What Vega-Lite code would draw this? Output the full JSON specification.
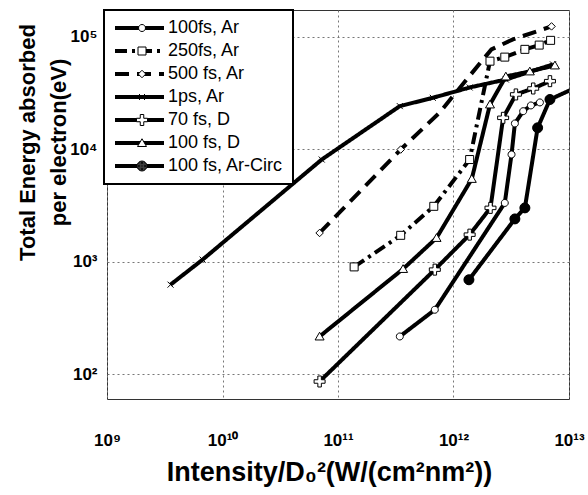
{
  "$schema": "https://vega.github.io/schema/vega-lite/v6.json",
  "autosize": {"type": "none"},
  "padding": {"left": 107, "top": 10, "right": 19, "bottom": 96},
  "width": 462,
  "height": 389,
  "background": "white",
  "config": {
    "font": "Liberation Sans",
    "view": {"stroke": "#333", "strokeWidth": 1},
    "axis": {
      "grid": true, "gridColor": "#777", "gridDash": [2, 3], "gridWidth": 1,
      "domain": false, "ticks": false, "tickSize": 0,
      "labelFont": "Liberation Sans", "labelFontWeight": "bold", "labelFontSize": 17, "labelColor": "black",
      "labelFlush": false, "labelOverlap": false, "labelBound": false,
      "titleFont": "Liberation Sans", "titleFontWeight": "bold", "titleColor": "black"
    },
    "legend": {"symbolFillColor": "white", "strokeWidth": 2}
  },
  "datasets": {
    "curves": [
      {"series": "1ps, Ar", "intensity": 3.55e9, "energy": 627},
      {"series": "1ps, Ar", "intensity": 6.73e9, "energy": 1047},
      {"series": "1ps, Ar", "intensity": 7.23e10, "energy": 8128},
      {"series": "1ps, Ar", "intensity": 3.43e11, "energy": 24270},
      {"series": "1ps, Ar", "intensity": 6.62e11, "energy": 28770},
      {"series": "1ps, Ar", "intensity": 1.38e12, "energy": 35560},
      {"series": "1ps, Ar", "intensity": 2.84e12, "energy": 41880},
      {"series": "1ps, Ar", "intensity": 7.26e12, "energy": 57020},
      {"series": "100 fs, D", "intensity": 6.93e10, "energy": 217},
      {"series": "100 fs, D", "intensity": 3.66e11, "energy": 865},
      {"series": "100 fs, D", "intensity": 7.13e11, "energy": 1633},
      {"series": "100 fs, D", "intensity": 1.44e12, "energy": 5470},
      {"series": "100 fs, D", "intensity": 2.07e12, "energy": 25120},
      {"series": "100 fs, D", "intensity": 2.84e12, "energy": 44570},
      {"series": "100 fs, D", "intensity": 4.58e12, "energy": 49430},
      {"series": "100 fs, D", "intensity": 7.55e12, "energy": 55850},
      {"series": "70 fs, D", "intensity": 6.93e10, "energy": 86.3},
      {"series": "70 fs, D", "intensity": 6.89e11, "energy": 853},
      {"series": "70 fs, D", "intensity": 1.38e12, "energy": 1746},
      {"series": "70 fs, D", "intensity": 2.09e12, "energy": 3020},
      {"series": "70 fs, D", "intensity": 2.69e12, "energy": 19100},
      {"series": "70 fs, D", "intensity": 3.47e12, "energy": 30830},
      {"series": "70 fs, D", "intensity": 4.90e12, "energy": 34830},
      {"series": "70 fs, D", "intensity": 6.84e12, "energy": 40460},
      {"series": "100fs, Ar", "intensity": 3.43e11, "energy": 217},
      {"series": "100fs, Ar", "intensity": 6.89e11, "energy": 375},
      {"series": "100fs, Ar", "intensity": 2.78e12, "energy": 3342},
      {"series": "100fs, Ar", "intensity": 3.18e12, "energy": 9020},
      {"series": "100fs, Ar", "intensity": 3.40e12, "energy": 17020},
      {"series": "100fs, Ar", "intensity": 4.01e12, "energy": 21880},
      {"series": "100fs, Ar", "intensity": 4.68e12, "energy": 24600},
      {"series": "100fs, Ar", "intensity": 5.60e12, "energy": 26180},
      {"series": "250fs, Ar", "intensity": 1.38e11, "energy": 902},
      {"series": "250fs, Ar", "intensity": 3.49e11, "energy": 1722},
      {"series": "250fs, Ar", "intensity": 6.75e11, "energy": 3119},
      {"series": "250fs, Ar", "intensity": 1.38e12, "energy": 8128},
      {"series": "250fs, Ar", "intensity": 2.07e12, "energy": 60950},
      {"series": "250fs, Ar", "intensity": 2.78e12, "energy": 66220},
      {"series": "250fs, Ar", "intensity": 4.15e12, "energy": 77620},
      {"series": "250fs, Ar", "intensity": 5.52e12, "energy": 84720},
      {"series": "250fs, Ar", "intensity": 6.93e12, "energy": 93330},
      {"series": "500 fs, Ar", "intensity": 6.93e10, "energy": 1807},
      {"series": "500 fs, Ar", "intensity": 3.49e11, "energy": 9977},
      {"series": "500 fs, Ar", "intensity": 7.60e11, "energy": 21330},
      {"series": "500 fs, Ar", "intensity": 1.30e12, "energy": 41880},
      {"series": "500 fs, Ar", "intensity": 2.13e12, "energy": 77620},
      {"series": "500 fs, Ar", "intensity": 3.27e12, "energy": 95280},
      {"series": "500 fs, Ar", "intensity": 7.06e12, "energy": 124200},
      {"series": "100 fs, Ar-Circ", "intensity": 1.36e12, "energy": 693},
      {"series": "100 fs, Ar-Circ", "intensity": 3.40e12, "energy": 2410},
      {"series": "100 fs, Ar-Circ", "intensity": 4.15e12, "energy": 3020},
      {"series": "100 fs, Ar-Circ", "intensity": 5.35e12, "energy": 15560},
      {"series": "100 fs, Ar-Circ", "intensity": 6.84e12, "energy": 27800},
      {"series": "100 fs, Ar-Circ", "intensity": 1.85e13, "energy": 44570}
    ],
    "markers": [
      {"series": "1ps, Ar", "intensity": 3.55e9, "energy": 627},
      {"series": "1ps, Ar", "intensity": 6.73e9, "energy": 1047},
      {"series": "1ps, Ar", "intensity": 7.23e10, "energy": 8128},
      {"series": "1ps, Ar", "intensity": 3.43e11, "energy": 24270},
      {"series": "1ps, Ar", "intensity": 6.62e11, "energy": 28770},
      {"series": "1ps, Ar", "intensity": 1.38e12, "energy": 35560},
      {"series": "1ps, Ar", "intensity": 2.84e12, "energy": 41880},
      {"series": "1ps, Ar", "intensity": 7.26e12, "energy": 57020},
      {"series": "100 fs, D", "intensity": 6.93e10, "energy": 217},
      {"series": "100 fs, D", "intensity": 3.66e11, "energy": 865},
      {"series": "100 fs, D", "intensity": 7.13e11, "energy": 1633},
      {"series": "100 fs, D", "intensity": 1.44e12, "energy": 5470},
      {"series": "100 fs, D", "intensity": 2.07e12, "energy": 25120},
      {"series": "100 fs, D", "intensity": 2.84e12, "energy": 44570},
      {"series": "100 fs, D", "intensity": 4.58e12, "energy": 49430},
      {"series": "100 fs, D", "intensity": 7.55e12, "energy": 55850},
      {"series": "70 fs, D", "intensity": 6.93e10, "energy": 86.3},
      {"series": "70 fs, D", "intensity": 6.89e11, "energy": 853},
      {"series": "70 fs, D", "intensity": 1.38e12, "energy": 1746},
      {"series": "70 fs, D", "intensity": 2.09e12, "energy": 3020},
      {"series": "70 fs, D", "intensity": 2.69e12, "energy": 19100},
      {"series": "70 fs, D", "intensity": 3.47e12, "energy": 30830},
      {"series": "70 fs, D", "intensity": 4.90e12, "energy": 34830},
      {"series": "70 fs, D", "intensity": 6.84e12, "energy": 40460},
      {"series": "100fs, Ar", "intensity": 3.43e11, "energy": 217},
      {"series": "100fs, Ar", "intensity": 6.89e11, "energy": 375},
      {"series": "100fs, Ar", "intensity": 2.78e12, "energy": 3342},
      {"series": "100fs, Ar", "intensity": 3.18e12, "energy": 9020},
      {"series": "100fs, Ar", "intensity": 3.40e12, "energy": 17020},
      {"series": "100fs, Ar", "intensity": 4.01e12, "energy": 21880},
      {"series": "100fs, Ar", "intensity": 4.68e12, "energy": 24600},
      {"series": "100fs, Ar", "intensity": 5.60e12, "energy": 26180},
      {"series": "250fs, Ar", "intensity": 1.38e11, "energy": 902},
      {"series": "250fs, Ar", "intensity": 3.49e11, "energy": 1722},
      {"series": "250fs, Ar", "intensity": 6.75e11, "energy": 3119},
      {"series": "250fs, Ar", "intensity": 1.38e12, "energy": 8128},
      {"series": "250fs, Ar", "intensity": 2.07e12, "energy": 60950},
      {"series": "250fs, Ar", "intensity": 2.78e12, "energy": 66220},
      {"series": "250fs, Ar", "intensity": 4.15e12, "energy": 77620},
      {"series": "250fs, Ar", "intensity": 5.52e12, "energy": 84720},
      {"series": "250fs, Ar", "intensity": 6.93e12, "energy": 93330},
      {"series": "500 fs, Ar", "intensity": 6.93e10, "energy": 1807},
      {"series": "500 fs, Ar", "intensity": 3.49e11, "energy": 9977},
      {"series": "500 fs, Ar", "intensity": 7.06e12, "energy": 124200},
      {"series": "100 fs, Ar-Circ", "intensity": 1.36e12, "energy": 693},
      {"series": "100 fs, Ar-Circ", "intensity": 3.40e12, "energy": 2410},
      {"series": "100 fs, Ar-Circ", "intensity": 4.15e12, "energy": 3020},
      {"series": "100 fs, Ar-Circ", "intensity": 5.35e12, "energy": 15560},
      {"series": "100 fs, Ar-Circ", "intensity": 6.84e12, "energy": 27800}
    ]
  },
  "encoding": {
    "x": {
      "field": "intensity", "type": "quantitative",
      "scale": {"type": "log", "domain": [1e9, 1e13]},
      "axis": {
        "values": [1e9, 1e10, 1e11, 1e12, 1e13],
        "labelExpr": "round(log(datum.value)/LN10) == 9 ? '10⁹' : round(log(datum.value)/LN10) == 10 ? '10¹⁰' : round(log(datum.value)/LN10) == 11 ? '10¹¹' : round(log(datum.value)/LN10) == 12 ? '10¹²' : '10¹³'",
        "labelPadding": 33,
        "title": "Intensity/D₀²(W/(cm²nm²))",
        "titleFontSize": 27, "titleX": 222, "titleY": 81, "titleBaseline": "alphabetic"
      }
    },
    "y": {
      "field": "energy", "type": "quantitative",
      "scale": {"type": "log", "domain": [60.3, 173780]},
      "axis": {
        "values": [100, 1000, 10000, 100000],
        "labelExpr": "round(log(datum.value)/LN10) == 2 ? '10²' : round(log(datum.value)/LN10) == 3 ? '10³' : round(log(datum.value)/LN10) == 4 ? '10⁴' : '10⁵'",
        "labelPadding": 10,
        "title": ["Total Energy absorbed", "per electron(eV)"],
        "titleFontSize": 22, "titleLineHeight": 31,
        "titleX": -73, "titleY": 132, "titleBaseline": "alphabetic", "titleAlign": "center", "titleAngle": 270
      }
    }
  },
  "layer": [
    {
      "data": {"name": "curves"},
      "mark": {"type": "line", "color": "black", "strokeWidth": 4, "clip": true},
      "encoding": {
        "strokeDash": {
          "field": "series", "type": "nominal",
          "scale": {
            "domain": ["100fs, Ar", "250fs, Ar", "500 fs, Ar", "1ps, Ar", "70 fs, D", "100 fs, D", "100 fs, Ar-Circ"],
            "range": [[1, 0], [12, 5, 3, 5], [14, 8], [1, 0], [1, 0], [1, 0], [1, 0]]
          },
          "legend": {
            "title": null, "orient": "none", "legendX": -3, "legendY": 0, "padding": 9,
            "symbolType": "stroke", "symbolSize": 2401, "symbolStrokeWidth": 4, "clipHeight": 18, "rowPadding": 5,
            "labelFont": "Liberation Sans", "labelFontSize": 18, "labelColor": "black", "labelOffset": 2, "labelLimit": 300,
            "strokeColor": "black", "fillColor": "white", "zindex": 1
          }
        }
      }
    },
    {
      "data": {"name": "markers"},
      "mark": {"type": "point", "filled": true, "stroke": "black", "strokeWidth": 1, "opacity": 1, "size": 100, "clip": true},
      "encoding": {
        "shape": {
          "field": "series", "type": "nominal",
          "sort": ["100fs, Ar", "250fs, Ar", "500 fs, Ar", "1ps, Ar", "70 fs, D", "100 fs, D", "100 fs, Ar-Circ"],
          "scale": {"range": [
            "M-0.7,0A0.7,0.7,0,1,0,0.7,0A0.7,0.7,0,1,0,-0.7,0Z",
            "M-0.8,-0.8H0.8V0.8H-0.8Z",
            "M0,-0.75L0.75,0L0,0.75L-0.75,0Z",
            "M-0.6,-0.6L0.6,0.6M-0.6,0.6L0.6,-0.6",
            "M-1.1,-0.35H-0.35V-1.1H0.35V-0.35H1.1V0.35H0.35V1.1H-0.35V0.35H-1.1Z",
            "M0,-0.85L0.9,0.7H-0.9Z",
            "M-1,0A1,1,0,1,0,1,0A1,1,0,1,0,-1,0ZM-0.85,0A0.85,0.85,0,1,0,0.85,0A0.85,0.85,0,1,0,-0.85,0ZM-0.7,0A0.7,0.7,0,1,0,0.7,0A0.7,0.7,0,1,0,-0.7,0ZM-0.55,0A0.55,0.55,0,1,0,0.55,0A0.55,0.55,0,1,0,-0.55,0ZM-0.4,0A0.4,0.4,0,1,0,0.4,0A0.4,0.4,0,1,0,-0.4,0ZM-0.25,0A0.25,0.25,0,1,0,0.25,0A0.25,0.25,0,1,0,-0.25,0ZM-0.1,0A0.1,0.1,0,1,0,0.1,0A0.1,0.1,0,1,0,-0.1,0Z"
          ]},
          "legend": {
            "title": null, "orient": "none", "legendX": 26, "legendY": 9, "padding": 0,
            "symbolSize": 100, "symbolStrokeWidth": 1, "clipHeight": 18, "rowPadding": 5,
            "labelFontSize": 18, "labelExpr": "''", "zindex": 2
          }
        },
        "fill": {
          "field": "series", "type": "nominal",
          "sort": ["100fs, Ar", "250fs, Ar", "500 fs, Ar", "1ps, Ar", "70 fs, D", "100 fs, D", "100 fs, Ar-Circ"],
          "scale": {"range": ["white", "white", "white", "white", "white", "white", "black"]},
          "legend": null
        }
      }
    }
  ]
}
